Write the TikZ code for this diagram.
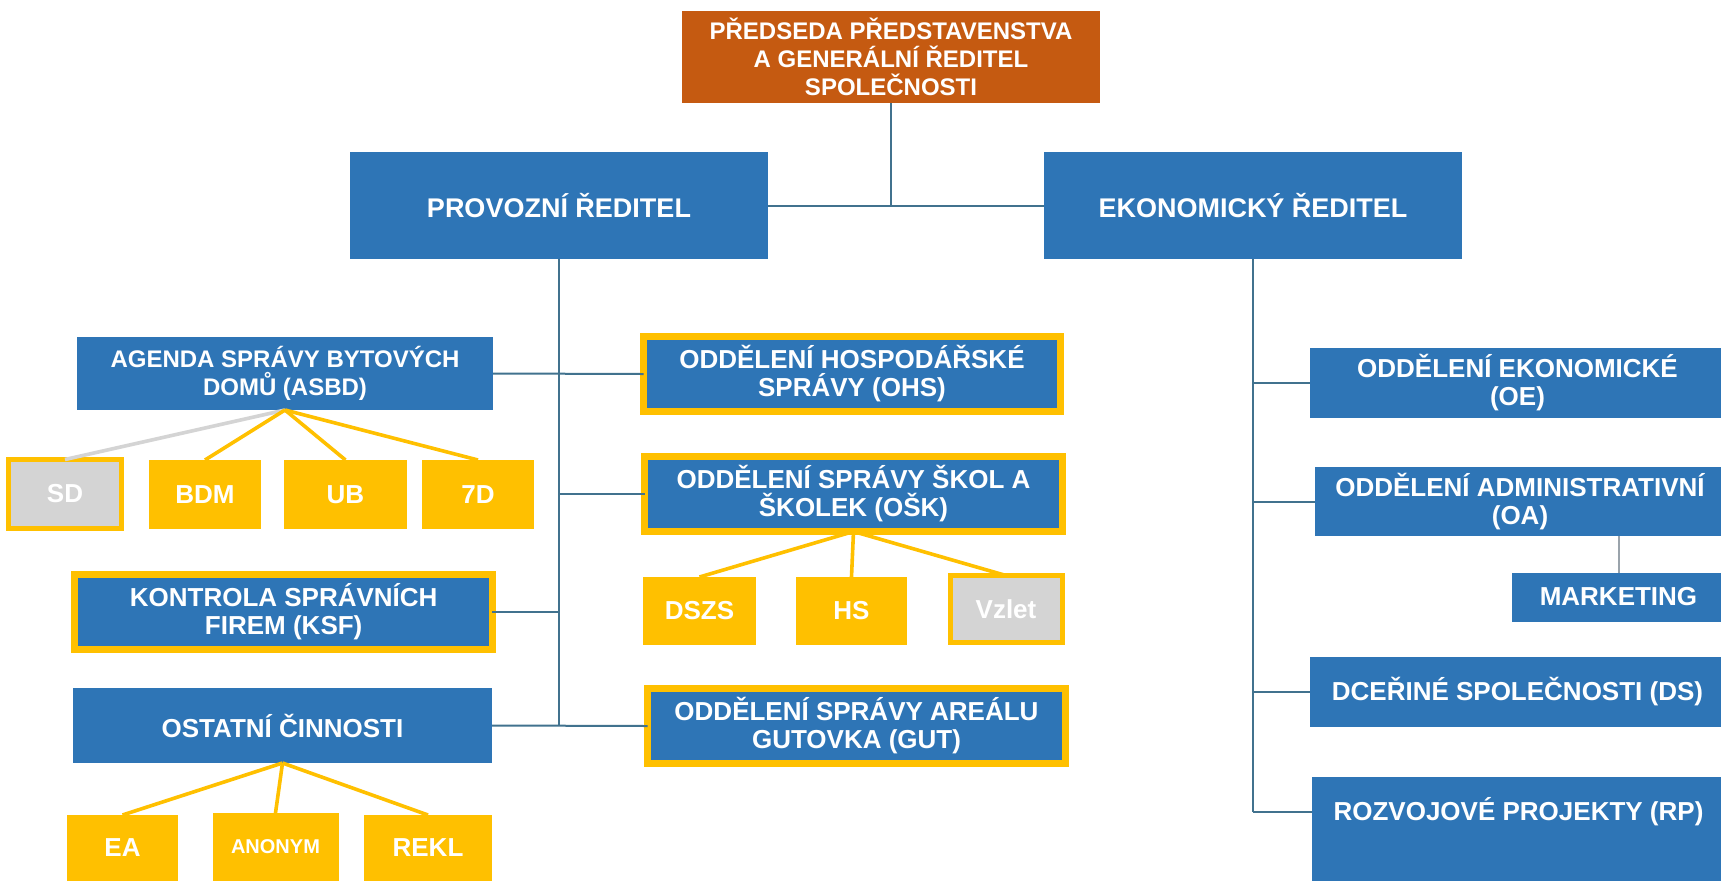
\documentclass[tikz,border=0pt]{standalone}
\usepackage{fontspec}
\setmainfont{Liberation Sans}
\definecolor{boxblue}{HTML}{2E75B6}
\definecolor{boxorange}{HTML}{C55A11}
\definecolor{boxyellow}{HTML}{FFC000}
\definecolor{boxgray}{HTML}{D4D4D4}
\definecolor{linkblue}{HTML}{41728E}
\definecolor{linkgray}{HTML}{9AA3AB}
\begin{document}
\begin{tikzpicture}[x=0.5pt,y=-0.5pt,
  base/.style={rectangle,inner sep=0pt,outer sep=0pt,align=center,text=white,
    font=\bfseries\fontsize{13pt}{14pt}\selectfont},
  bluebox/.style={base,fill=boxblue},
  orbox/.style={base,fill=boxorange},
  ybluebox/.style={base,fill=boxblue,draw=boxyellow,line width=3.5pt},
  ybox/.style={base,fill=boxyellow},
  gbox/.style={base,fill=boxgray,draw=boxyellow,line width=2.5pt},
  blink/.style={draw=linkblue,line width=1pt},
  ylink/.style={draw=boxyellow,line width=1.8pt},
  glink/.style={draw=boxgray,line width=1.8pt},
  mlink/.style={draw=linkgray,line width=1pt}]
\useasboundingbox (0,0) rectangle (1721,880);
\clip (0,0) rectangle (1721,880);
\fill[white] (0,0) rectangle (1721,880);

% top level
\node[orbox,minimum width=209pt,minimum height=46pt,font=\bfseries\fontsize{12pt}{14pt}\selectfont] (top) at (891,57)
  {PŘEDSEDA PŘEDSTAVENSTVA\\A GENERÁLNÍ ŘEDITEL\\SPOLEČNOSTI};
\node[bluebox,minimum width=209pt,minimum height=53.5pt,font=\bfseries\fontsize{13.5pt}{15pt}\selectfont] (prov) at (559,205.5) {PROVOZNÍ ŘEDITEL};
\node[bluebox,minimum width=209pt,minimum height=53.5pt,font=\bfseries\fontsize{13.5pt}{15pt}\selectfont] (eko) at (1253,205.5) {EKONOMICKÝ ŘEDITEL};

% left branch
\node[bluebox,minimum width=208pt,minimum height=36.5pt,font=\bfseries\fontsize{12pt}{14pt}\selectfont] (asbd) at (285,373.5) {AGENDA SPRÁVY BYTOVÝCH\\DOMŮ (ASBD)};
\node[ybluebox,minimum width=208.5pt,minimum height=37.5pt] (ohs) at (852,374) {ODDĚLENÍ HOSPODÁŘSKÉ\\SPRÁVY (OHS)};
\node[ybluebox,minimum width=209pt,minimum height=37.5pt] (osk) at (853.5,494) {ODDĚLENÍ SPRÁVY ŠKOL A\\ŠKOLEK (OŠK)};
\node[ybluebox,minimum width=208.75pt,minimum height=37.5pt] (ksf) at (283.7,611.5) {KONTROLA SPRÁVNÍCH\\FIREM (KSF)};
\node[bluebox,minimum width=209.5pt,minimum height=37.5pt] (ost) at (282.5,725.5) {OSTATNÍ ČINNOSTI};
\node[ybluebox,minimum width=209pt,minimum height=37.5pt] (gut) at (856.5,726) {ODDĚLENÍ SPRÁVY AREÁLU\\GUTOVKA (GUT)};

\node[gbox,minimum width=56.25pt,minimum height=34.5pt] (sd) at (65,494) {SD};
\node[ybox,minimum width=56pt,minimum height=34.5pt] (bdm) at (205,494.5) {BDM};
\node[ybox,minimum width=61.5pt,minimum height=34.5pt] (ub) at (345.5,494.5) {UB};
\node[ybox,minimum width=55.75pt,minimum height=34.5pt] (sevend) at (478,494.5) {7D};

\node[ybox,minimum width=56.5pt,minimum height=34pt] (dszs) at (699.5,611) {DSZS};
\node[ybox,minimum width=55.5pt,minimum height=34pt] (hs) at (851.5,611) {HS};
\node[gbox,minimum width=56pt,minimum height=33.5pt] (vzlet) at (1006,609) {Vzlet};

\node[ybox,minimum width=55.5pt,minimum height=33pt] (ea) at (122.5,848) {EA};
\node[ybox,minimum width=63pt,minimum height=34pt,font=\bfseries\fontsize{10pt}{12pt}\selectfont] (anonym) at (275.5,847) {ANONYM};
\node[ybox,minimum width=64pt,minimum height=33pt] (rekl) at (428,848) {REKL};

% right branch
\node[bluebox,minimum width=207.5pt,minimum height=35pt] (oe) at (1517.5,383) {ODDĚLENÍ EKONOMICKÉ\\(OE)};
\node[bluebox,minimum width=205pt,minimum height=34.5pt] (oa) at (1520,501.5) {ODDĚLENÍ ADMINISTRATIVNÍ\\(OA)};
\node[bluebox,minimum width=106.5pt,minimum height=24.5pt] (mkt) at (1618.5,597) {MARKETING};
\node[bluebox,minimum width=207.5pt,minimum height=35pt] (ds) at (1517.5,692) {DCEŘINÉ SPOLEČNOSTI (DS)};
\node[bluebox,minimum width=206.5pt,minimum height=35pt] (rp) at (1518.5,812) {ROZVOJOVÉ PROJEKTY (RP)};
\fill[boxblue] (rp.south west) rectangle ([yshift=-25pt]rp.south east);

% connectors (blue)
\draw[blink] (top.south) -- (top.south |- prov.east);
\draw[blink] (prov.east) -- (eko.west);
\draw[blink] (prov.south) -- (prov.south |- gut.west);
\draw[blink] (asbd.east) -- (ohs.west);
\draw[blink] (prov.south |- osk.west) -- (osk.west);
\draw[blink] (ksf.east) -- (prov.south |- ksf.east);
\draw[blink] (ost.east) -- (gut.west);
\draw[blink] (eko.south) -- (eko.south |- rp.west);
\draw[blink] (eko.south |- oe.west) -- (oe.west);
\draw[blink] (eko.south |- oa.west) -- (oa.west);
\draw[blink] (eko.south |- ds.west) -- (ds.west);
\draw[blink] (eko.south |- rp.west) -- (rp.west);
\draw[mlink] (mkt.north) -- (mkt.north |- oa.south);

% connectors (yellow / gray)
\draw[glink] (asbd.south) -- (sd.north);
\draw[ylink] (asbd.south) -- (bdm.north);
\draw[ylink] (asbd.south) -- (ub.north);
\draw[ylink] (asbd.south) -- (sevend.north);
\draw[ylink] (osk.south) -- (dszs.north);
\draw[ylink] (osk.south) -- (hs.north);
\draw[ylink] (osk.south) -- (vzlet.north);
\draw[ylink] (ost.south) -- (ea.north);
\draw[ylink] (ost.south) -- (anonym.north);
\draw[ylink] (ost.south) -- (rekl.north);
\end{tikzpicture}
\end{document}
